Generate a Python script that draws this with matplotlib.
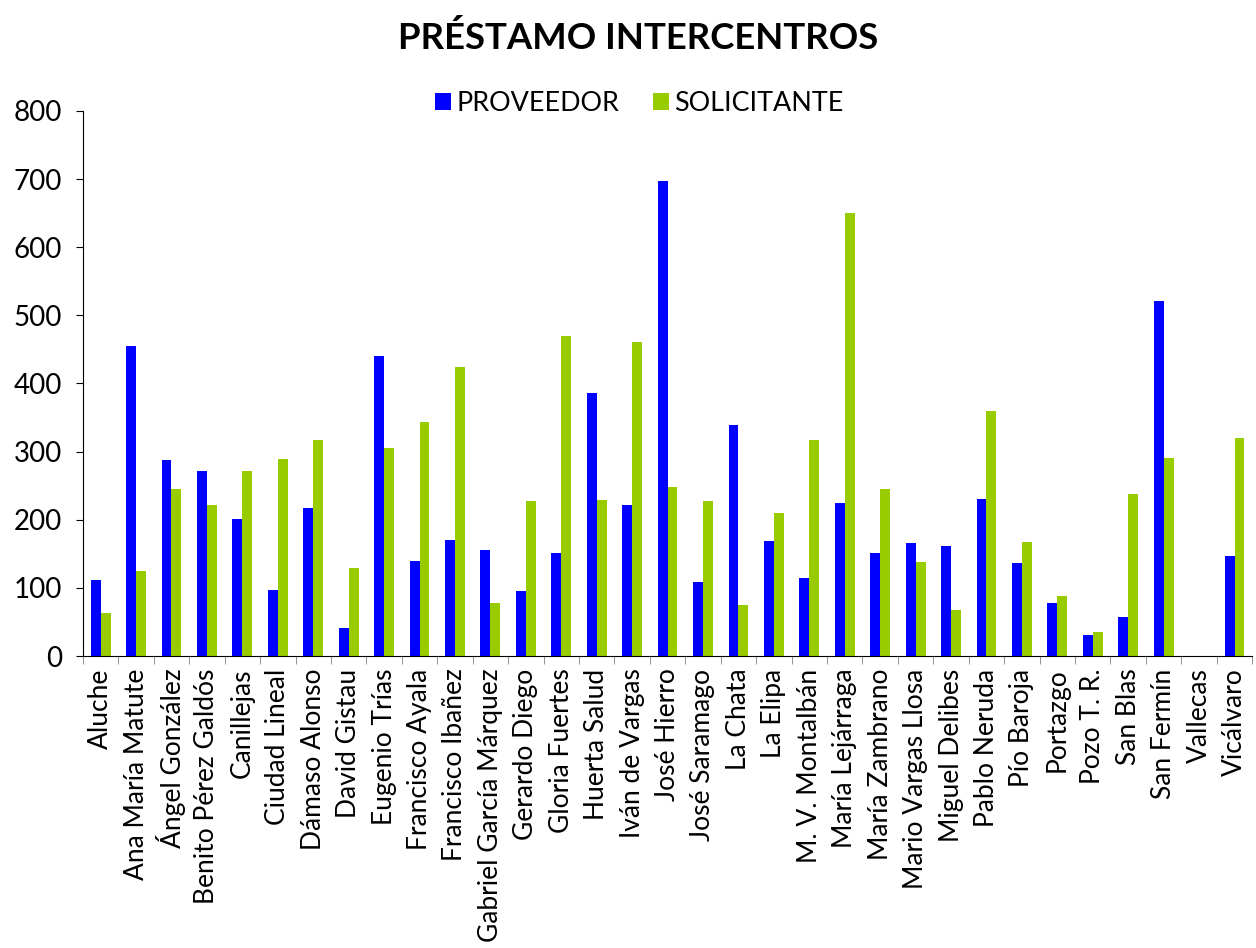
import matplotlib
matplotlib.use("Agg")
import matplotlib.pyplot as plt
import numpy as np

plt.rcParams["font.family"] = ["Lato", "DejaVu Sans"]

centros = [
    "Aluche", "Ana María Matute", "Ángel González", "Benito Pérez Galdós",
    "Canillejas", "Ciudad Lineal", "Dámaso Alonso", "David Gistau",
    "Eugenio Trías", "Francisco Ayala", "Francisco Ibañez",
    "Gabriel García Márquez", "Gerardo Diego", "Gloria Fuertes",
    "Huerta Salud", "Iván de Vargas", "José Hierro", "José Saramago",
    "La Chata", "La Elipa", "M. V. Montalbán", "María Lejárraga",
    "María Zambrano", "Mario Vargas Llosa", "Miguel Delibes",
    "Pablo Neruda", "Pío Baroja", "Portazgo", "Pozo T. R.", "San Blas",
    "San Fermín", "Vallecas", "Vicálvaro",
]
proveedor = [111, 455, 288, 272, 201, 97, 217, 41, 440, 139, 170, 155, 95,
             151, 386, 222, 697, 109, 339, 169, 115, 225, 151, 166, 162,
             230, 137, 78, 31, 57, 521, 0, 147]
solicitante = [63, 125, 245, 222, 272, 289, 317, 129, 305, 344, 424, 78,
               228, 470, 229, 461, 248, 228, 75, 210, 317, 650, 245, 138,
               68, 359, 167, 88, 35, 238, 291, 0, 320]

fig = plt.figure(figsize=(12.56, 9.48), dpi=100)
ax = fig.add_axes([0.066, 0.308, 0.931, 0.575])

x = np.arange(len(centros))
w = 0.28
ax.bar(x - w / 2, proveedor, w, color="#0000FF", label="PROVEEDOR")
ax.bar(x + w / 2, solicitante, w, color="#99CC00", label="SOLICITANTE")

ax.set_xlim(-0.5, len(centros) - 0.5)
ax.set_ylim(0, 800)
ax.set_yticks(range(0, 801, 100))
ax.tick_params(axis="y", labelsize=20, length=5, direction="out", pad=10)

ax.set_xticks(x)
ax.set_xticklabels(centros, rotation=90, fontsize=19)
ax.tick_params(axis="x", length=0, pad=9)
ax.set_xticks(np.arange(-0.5, len(centros), 1), minor=True)
ax.tick_params(axis="x", which="minor", length=6, color="#808080")

for s in ["top", "right"]:
    ax.spines[s].set_visible(False)

fig.text(0.508, 0.96, "PRÉSTAMO INTERCENTROS", fontsize=26.3,
         fontweight="bold", ha="center", va="center")
fig.legend(loc="center", bbox_to_anchor=(0.509, 0.891), ncol=2, frameon=False,
           fontsize=19.4, handlelength=0.6, handleheight=0.6,
           handletextpad=0.2, columnspacing=1.25)

fig.savefig("out.png", dpi=100)
